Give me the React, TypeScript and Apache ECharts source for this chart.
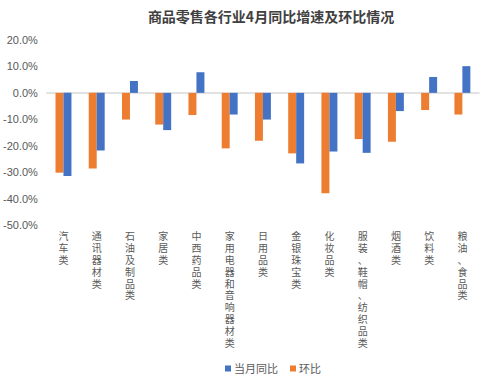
import React, { useEffect, useRef } from "react";
import * as echarts from "echarts";

const categories = [
  "汽车类",
  "通讯器材类",
  "石油及制品类",
  "家居类",
  "中西药品类",
  "家用电器和音响器材类",
  "日用品类",
  "金银珠宝类",
  "化妆品类",
  "服装、鞋帽、纺织品类",
  "烟酒类",
  "饮料类",
  "粮油、食品类",
];
const yoy = [-31.5, -21.8, 4.5, -14.1, 7.8, -8.2, -10.1, -26.7, -22.2, -22.7, -6.9, 6.0, 10.1];
const mom = [-30.2, -28.6, -10.1, -12.0, -8.4, -21.0, -18.1, -22.9, -38.0, -17.5, -18.5, -6.5, -8.2];
const seriesNames = ["当月同比", "环比"];

const FONT = "'Liberation Sans', 'Noto Sans CJK SC', sans-serif";
const CJK = "'Noto Sans CJK SC', sans-serif";

export default function App() {
  const ref = useRef<HTMLDivElement>(null);
  useEffect(() => {
    const chart = echarts.init(ref.current!, undefined, { renderer: "svg" });
    chart.setOption({
      animation: false,
      textStyle: { fontFamily: FONT },
      title: {
        text: "商品零售各行业4月同比增速及环比情况",
        left: 266,
        textAlign: "center",
        top: 4,
        textStyle: { fontSize: 14, fontWeight: "bold", color: "#404040", fontFamily: CJK },
      },
      legend: {
        data: seriesNames,
        top: 358,
        left: 220,
        itemWidth: 6,
        itemHeight: 6,
        itemGap: 12,
        icon: "rect",
        textStyle: { fontSize: 11, color: "#595959", fontFamily: FONT, padding: [0, 0, 0, -2] },
      },
      grid: { left: 46, right: 21, top: 40, bottom: 154 },
      xAxis: {
        type: "category",
        data: categories,
        axisLine: { onZero: true, lineStyle: { color: "#d9d9d9", width: 1.5 } },
        axisTick: { show: false },
        axisLabel: {
          interval: 0,
          color: "#595959",
          fontSize: 10,
          fontFamily: FONT,
          lineHeight: 11.8,
          verticalAlign: "top",
          margin: 6,
          formatter: (v: string) => v.split("").join("\n"),
        },
      },
      yAxis: {
        type: "value",
        min: -50,
        max: 20,
        interval: 10,
        axisLine: { show: false },
        axisTick: { show: false },
        splitLine: { show: false },
        axisLabel: {
          color: "#595959",
          fontSize: 11,
          margin: 9,
          formatter: (v: number) => v.toFixed(1) + "%",
        },
      },
      series: [
        {
          name: "环比",
          type: "bar",
          data: mom,
          barGap: "0%",
          barCategoryGap: "52%",
          itemStyle: { color: "#ED7D31" },
        },
        {
          name: "当月同比",
          type: "bar",
          data: yoy,
          barGap: "0%",
          barCategoryGap: "52%",
          itemStyle: { color: "#4472C4" },
        },
      ],
    });
    return () => chart.dispose();
  }, []);
  return <div ref={ref} style={{ width: 500, height: 379, position: "absolute", left: 0, top: 0 }} />;
}
